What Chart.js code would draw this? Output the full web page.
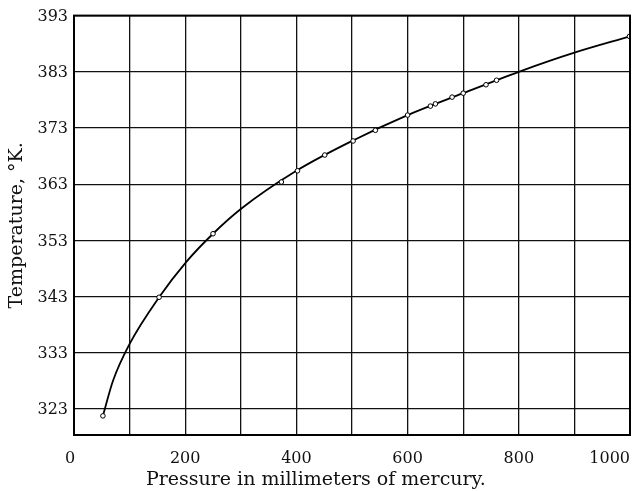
<!DOCTYPE html>
<html lang="en">
<head>
  <meta charset="UTF-8">
  <title>Temperature vs Pressure</title>
  <script src="https://cdn.jsdelivr.net/npm/chart.js"></script>
  <style>
    body {
      margin: 0;
      padding: 0;
      background: #fff;
    }

    .wrap {
      width: 635px;
      height: 491px;
    }
  </style>
</head>
<body>
  <div class="wrap">
    <canvas id="vpChart"></canvas>
  </div>
  <script>
    // observed points (small open circles)
    const pressureObs = [52, 153, 250, 373, 402, 451, 502, 542, 600, 641, 650, 680, 700, 741, 760, 999];
    const tempObs = [321.8, 342.9, 354.2, 363.4, 365.4, 368.2, 370.7, 372.6, 375.3, 376.9, 377.3, 378.5, 379.2, 380.7, 381.5, 389.3];

    // smooth curve
    const curvePressure = [52, 70, 100, 153, 202, 250, 300, 400, 500, 600, 700, 800, 900, 1000];
    const curveTemp = [321.8, 328.0, 334.6, 342.9, 349.2, 354.2, 358.6, 365.4, 370.7, 375.3, 379.2, 383.0, 386.4, 389.3];

    const tempTicks = [323, 333, 343, 353, 363, 373, 383, 393];
    const pressureLabels = [0, 200, 400, 600, 800, 1000];

    const serif = "'DejaVu Serif', serif";

    // frame round the plot + x tick labels and x title
    const framePlugin = {
      id: 'frame',
      afterDraw(chart) {
        const ctx = chart.ctx;
        const a = chart.chartArea;
        const xs = chart.scales.x;
        ctx.save();
        ctx.strokeStyle = '#000';
        ctx.lineWidth = 2;
        ctx.strokeRect(a.left, a.top, a.right - a.left, a.bottom - a.top);

        ctx.fillStyle = '#111';
        ctx.font = '16px ' + serif;
        ctx.textBaseline = 'middle';
        pressureLabels.forEach((v, i) => {
          const px = xs.getPixelForValue(v);
          if (i === pressureLabels.length - 1) {
            ctx.textAlign = 'right';
            ctx.fillText(String(v), px, a.bottom + 24);
          } else {
            ctx.textAlign = 'center';
            ctx.fillText(String(v), px - (i === 0 ? 4 : 0), a.bottom + 24);
          }
        });

        ctx.font = '19px ' + serif;
        ctx.textAlign = 'center';
        ctx.fillText('Pressure in millimeters of mercury.', a.left + (a.right - a.left) * 0.435, a.bottom + 45);
        ctx.restore();
      }
    };

    new Chart(document.getElementById('vpChart'), {
      type: 'scatter',
      data: {
        datasets: [
          {
            type: 'line',
            label: 'curve',
            data: curvePressure.map((p, i) => ({ x: p, y: curveTemp[i] })),
            borderColor: '#000',
            borderWidth: 1.8,
            pointRadius: 0,
            fill: false,
            cubicInterpolationMode: 'monotone',
            order: 2
          },
          {
            label: 'observed',
            data: pressureObs.map((p, i) => ({ x: p, y: tempObs[i] })),
            backgroundColor: '#fff',
            borderColor: '#000',
            borderWidth: 1,
            pointRadius: 2.3,
            order: 1
          }
        ]
      },
      options: {
        responsive: true,
        maintainAspectRatio: false,
        animation: false,
        layout: {
          padding: { top: 11, right: 4, bottom: 56, left: 0 }
        },
        plugins: {
          legend: { display: false },
          tooltip: { enabled: false }
        },
        scales: {
          x: {
            type: 'linear',
            min: 0,
            max: 1000,
            border: { display: false },
            grid: { color: '#111', lineWidth: 1.3, drawTicks: false },
            ticks: { display: false, stepSize: 100 }
          },
          y: {
            type: 'linear',
            min: 318.4,
            max: 393,
            afterBuildTicks: (scale) => {
              scale.ticks = tempTicks.map(v => ({ value: v }));
            },
            afterFit: (scale) => {
              scale.width = 74;
            },
            border: { display: false },
            grid: { color: '#111', lineWidth: 1.3, drawTicks: false },
            ticks: {
              color: '#111',
              font: { family: serif, size: 16 },
              padding: 6,
              labelOffset: 1
            },
            title: {
              display: true,
              text: 'Temperature, °K.',
              color: '#111',
              font: { family: serif, size: 19 },
              padding: { top: 6, bottom: 0 }
            }
          }
        }
      },
      plugins: [framePlugin]
    });
  </script>
</body>
</html>
